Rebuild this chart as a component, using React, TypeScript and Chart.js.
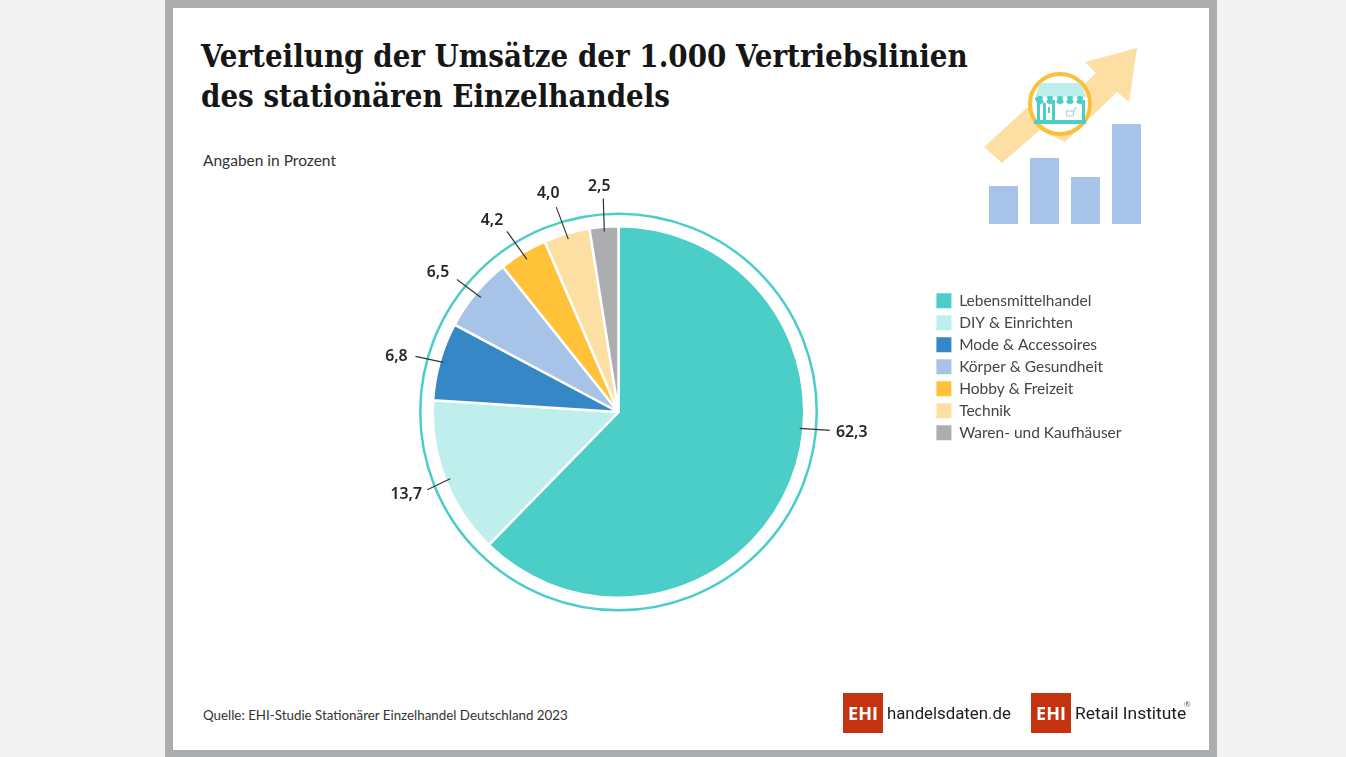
import React, { useEffect, useRef } from "react";
import { Chart, registerables } from "chart.js";

Chart.register(...registerables);

const categories = ["Lebensmittelhandel", "DIY & Einrichten", "Mode & Accessoires", "Körper & Gesundheit", "Hobby & Freizeit", "Technik", "Waren- und Kaufhäuser"];
const shares = [62.3, 13.7, 6.8, 6.5, 4.2, 4.0, 2.5];
const colors = ["#4BCDC8", "#BEEFEC", "#3587C6", "#A8C3E8", "#FFC238", "#FEDFA3", "#ABADB0"];
const titleLines = ["Verteilung der Umsätze der 1.000 Vertriebslinien", "des stationären Einzelhandels"];
const subtitle = "Angaben in Prozent";
const source = "Quelle: EHI-Studie Stationärer Einzelhandel Deutschland 2023";

const TEXT_FONT = 'Lato, "Noto Sans", sans-serif';

// Leader styling per slice: angle shift (deg), inner radius, outward offset of line end, then label offset from line end
const leaders = [
  { shift: -17, r: 182, dx: 30, dy: 2, lx: 22, ly: 2 },
  { shift: -0.6, r: 181, dx: -23, dy: 11, lx: -21, ly: 5 },
  { shift: 0, r: 182, dx: -28, dy: -6, lx: -19, ly: 0 },
  { shift: 0, r: 179, dx: -24, dy: -18, lx: -19, ly: -7 },
  { shift: 0, r: 178, dx: -20, dy: -28, lx: -15, ly: -11 },
  { shift: 0, r: 180, dx: -12, dy: -32, lx: -8, ly: -14 },
  { shift: 0, r: 181, dx: -1, dy: -33, lx: -4, ly: -12 },
];

const pieGeometry = {
  id: "pieGeometry",
  afterLayout(chart: any) {
    const a = chart.chartArea;
    a.left = 431.5; a.right = 805.5; a.top = 225; a.bottom = 599;
    a.width = 374; a.height = 374;
    const l = chart.legend;
    const pad = l.options.labels.padding;
    const w = l.width, h = l.height;
    l.left = 936 - pad + 0.4; l.right = l.left + w;
    l.top = 293 - pad; l.bottom = l.top + h;
  },
  afterDatasetsDraw(chart: any) {
    const ctx = chart.ctx;
    const arcs = chart.getDatasetMeta(0).data;
    const c = arcs[0].getProps(["x", "y", "outerRadius"], true);
    ctx.save();
    ctx.beginPath();
    ctx.arc(c.x, c.y, c.outerRadius + 12.5, 0, Math.PI * 2);
    ctx.strokeStyle = colors[0];
    ctx.lineWidth = 2.5;
    ctx.stroke();
    ctx.font = '600 15.8px "Noto Sans", sans-serif';
    ctx.fillStyle = "#262626";
    ctx.textAlign = "center";
    ctx.textBaseline = "middle";
    arcs.forEach((arc: any, i: number) => {
      const p = arc.getProps(["startAngle", "endAngle"], true);
      const s = leaders[i];
      const mid = (p.startAngle + p.endAngle) / 2 + (s.shift * Math.PI) / 180;
      const x0 = c.x + Math.cos(mid) * s.r;
      const y0 = c.y + Math.sin(mid) * s.r;
      const x1 = x0 + s.dx;
      const y1 = y0 + s.dy;
      ctx.beginPath();
      ctx.moveTo(x0, y0);
      ctx.lineTo(x1, y1);
      ctx.strokeStyle = "#333";
      ctx.lineWidth = 1.2;
      ctx.stroke();
      ctx.fillText(shares[i].toFixed(1).replace(".", ","), x1 + s.lx, y1 + s.ly);
    });
    ctx.restore();
  },
};

const abs = (o: React.CSSProperties): React.CSSProperties => ({ position: "absolute", whiteSpace: "nowrap", ...o });

function Logo({ x, size, text }: { x: number; size: number; text: React.ReactNode }) {
  return (
    <>
      <div style={abs({ left: x, top: 693, width: 40, height: 40, background: "#C4320F", color: "#fff", font: '700 18px "Open Sans", sans-serif', lineHeight: "40px", textAlign: "center" })}>EHI</div>
      <div style={abs({ left: x + 44, top: 693, height: 40, font: `400 ${size}px Roboto, sans-serif`, lineHeight: "41px", color: "#1c1c1c" })}>{text}</div>
    </>
  );
}

export default function App() {
  const ref = useRef<HTMLCanvasElement>(null);
  useEffect(() => {
    document.body.style.margin = "0";
    document.body.style.overflow = "hidden";
    const chart = new Chart(ref.current!, {
      type: "pie",
      data: {
        labels: categories,
        datasets: [{ data: shares, backgroundColor: colors, borderColor: "#fff", borderWidth: 2.5, borderJoinStyle: "round" }],
      },
      options: {
        responsive: false,
        animation: false,
        plugins: {
          title: { display: false },
          tooltip: { enabled: false },
          legend: {
            position: "right",
            align: "start",
            labels: {
              boxWidth: 15,
              boxHeight: 15,
              padding: 6.5,
              color: "#444",
              font: { family: "Lato", size: 15.5 },
              generateLabels: (c: any) =>
                (Chart as any).overrides.pie.plugins.legend.labels.generateLabels(c).map((l: any) => ({ ...l, lineWidth: 0 })),
            },
          },
        },
      },
      plugins: [pieGeometry],
    } as any);
    return () => chart.destroy();
  }, []);

  return (
    <div style={{ position: "relative", width: 1346, height: 757, background: "#F3F3F3", overflow: "hidden" }}>
      <div style={abs({ left: 165, top: 0, width: 1036, height: 742, border: "8px solid #ABADAF", background: "#fff" })} />
      {titleLines.map((t, i) => (
        <div key={i} style={abs({ left: 201, top: 36 + i * 40, height: 40, font: '700 30.9px "DejaVu Serif Condensed", "DejaVu Serif", serif', fontStretch: "condensed", lineHeight: "40px", color: "#161616" })}>{t}</div>
      ))}
      <div style={abs({ left: 203, top: 150, height: 20, font: `400 15.5px ${TEXT_FONT}`, lineHeight: "20px", color: "#333" })}>{subtitle}</div>
      <div style={abs({ left: 203, top: 705, height: 20, font: `400 13.35px ${TEXT_FONT}`, lineHeight: "20px", color: "#333" })}>{source}</div>
      <svg width={1346} height={757} style={{ position: "absolute", left: 0, top: 0 }}>
        <polygon points="984,147 1002,163 1040,130 1065,142 1117,92 1129,102 1137,48 1085,62 1096,73 1075,93 1030,105" fill="#FEDFA3" />
        {[[989, 186], [1030, 158], [1071, 177], [1112, 124]].map(([x, y]) => (
          <rect key={x} x={x} y={y} width={29} height={224 - y} fill="#A8C3E8" />
        ))}
        <circle cx={1060} cy={104} r={30} fill="#fff" stroke="#FBC038" strokeWidth={4} />
        <polygon points="1040,83 1080,83 1087,98 1035,98" fill="#BEEFEC" />
        <rect x={1035} y={98} width={52} height={2} fill="#4BCDC8" />
        {[1040, 1050, 1060, 1070, 1080].map((x) => (
          <circle key={x} cx={x} cy={100} r={4} fill="#4BCDC8" />
        ))}
        {[1040, 1050, 1060, 1070, 1080].map((x) => (
          <circle key={x} cx={x + 5} cy={99} r={2.5} fill="#fff" />
        ))}
        <rect x={1037} y={100} width={3} height={21} fill="#4BCDC8" />
        <rect x={1043} y={103} width={3} height={18} fill="#4BCDC8" />
        <rect x={1052} y={100} width={3} height={21} fill="#4BCDC8" />
        <rect x={1082} y={100} width={3} height={21} fill="#4BCDC8" />
        <rect x={1048} y={107} width={2} height={6} fill="#4BCDC8" />
        <rect x={1034} y={120} width={52} height={4} fill="#4BCDC8" />
        <path d="M1066,111 h8 l-1,5 h-6 z M1074,111 l1,-3 h2" fill="none" stroke="#A8C3E8" strokeWidth={1} />
      </svg>
      <canvas ref={ref} width={1346} height={757} style={{ position: "absolute", left: 0, top: 0 }} />
      <Logo x={843} size={16.8} text={<>handelsdaten<span style={{ color: "#C4320F" }}>.</span>de</>} />
      <Logo x={1031} size={17.4} text={<>Retail Institute</>} />
      <div style={abs({ left: 1184, top: 699, font: `400 8px ${TEXT_FONT}`, color: "#555" })}>®</div>
    </div>
  );
}
